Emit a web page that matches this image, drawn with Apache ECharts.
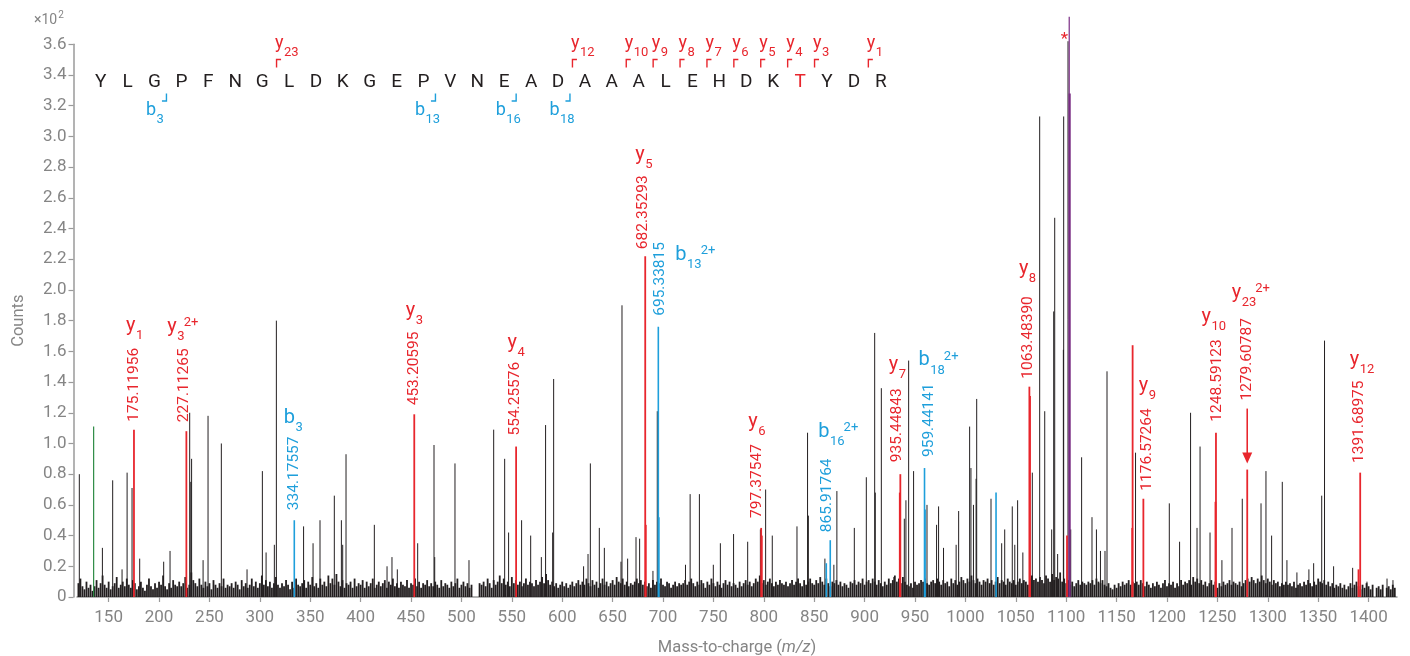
<!DOCTYPE html>
<html><head><meta charset="utf-8">
<script src="https://cdn.jsdelivr.net/npm/echarts@6/dist/echarts.min.js"></script>
<style>html,body{margin:0;padding:0;background:#fff}#c{width:1410px;height:656px}</style>
</head><body><div id="c"></div>
<script>
// ---------------- DATA ----------------
const xTicks = [150,200,250,300,350,400,450,500,550,600,650,700,750,800,850,900,950,1000,1050,1100,1150,1200,1250,1300,1350,1400];
const yTicks = [0,20,40,60,80,100,120,140,160,180,200,220,240,260,280,300,320,340,360];

// [m/z, counts]
const blackPeaks = [[120.9,80],[143.8,32],[154.0,76],[163.3,18],[168.3,81],[173.2,71],[180.8,25],[204.6,23],[210.9,30],[230.4,120],[231.5,75],[232.3,90],[243.7,24],[248.6,118],[261.8,100],[287.3,18],[302.5,82],[306.2,29],[314.4,34],[316.4,180],[343.4,46],[352.8,35],[359.7,50],[373.9,66],[380.9,50],[382.2,34],[385.5,93],[413.6,47],[426.2,20],[431.1,26],[436.4,18],[456.6,35],[472.8,99],[473.5,26],[493.6,87],[507.5,24],[532.0,109],[542.9,90],[546.8,42],[559.7,50],[568.7,40],[579.3,26],[583.5,112],[590.5,42],[591.5,142],[621.2,20],[625.6,28],[627.9,87],[636.8,45],[641.8,32],[658.3,23],[659.3,190],[664.9,25],[673.2,39],[676.8,38],[690.0,17],[694.3,121],[722.3,21],[726.9,67],[736.1,67],[749.9,21],[756.9,35],[770.0,41],[784.0,36],[796.6,44],[801.8,70],[808.4,40],[832.9,46],[843.4,107],[844.2,53],[860.6,25],[869.5,21],[872.5,69],[889.8,45],[901.7,78],[910.0,172],[910.6,68],[916.6,136],[929.0,13],[939.4,51],[941.0,63],[943.7,154],[948.6,82],[961.9,60],[971.4,47],[973.4,59],[978.3,32],[990.8,34],[993.3,56],[1004.2,111],[1005.5,84],[1008.0,60],[1010.6,77],[1011.2,129],[1025.4,64],[1036.0,35],[1039.0,44],[1046.5,59],[1049.0,34],[1051.8,63],[1057.0,29],[1066.4,81],[1073.7,313],[1078.7,121],[1085.6,44],[1087.6,186],[1088.6,247],[1091.5,28],[1097.2,161],[1097.5,313],[1101.8,362],[1104.5,44],[1115.3,91],[1125.6,52],[1130.0,44],[1134.0,30],[1138.5,30],[1140.5,147],[1168.8,94],[1202.3,61],[1212.5,36],[1223.4,120],[1229.8,45],[1232.8,98],[1242.7,42],[1254.5,24],[1264.5,45],[1274.7,64],[1293.3,61],[1298.2,82],[1303.8,40],[1314.4,75],[1319.0,24],[1328.9,16],[1340.8,18],[1345.5,22],[1353.5,66],[1356.3,167],[1365.3,20],[1384.2,19],[1398.4,10],[1418.3,12],[1424.2,11]];
const redPeaks = [[175.12,109],[227.11,108],[453.21,119],[554.26,98],[682.35,222],[682.9,47],[797.38,45],[798.0,40],[934.9,68],[935.45,80],[1063.48,137],[1064.1,131],[1100.8,40],[1165.5,45],[1165.9,164],[1176.57,64],[1248.1,62],[1248.59,107],[1279.61,83],[1390.0,18],[1391.69,81]];
const bluePeaks = [[334.18,50],[695.34,176],[695.9,52],[862.0,22],[865.92,37],[959.44,84],[960.0,57],[1030.4,68]];
const purplePeaks = [[1103.0,378]];
const purpleBasePeaks = [[1103.4,328]];
const greenPeaks = [[135.1,111]];

// baseline noise: counts sampled every 2 m/z from 120
const noiseStart = 120, noiseStep = 2;
const noiseCounts = [
 9,12,7,5,10,6,8,4,7,11,6,9,14,8,6,10,5,7,9,13,6,8,10,7,12,
 8,6,11,9,5,7,10,6,4,8,12,7,5,9,6,10,8,14,7,5,9,6,11,8,7,
 10,7,9,13,6,8,16,11,9,7,12,8,6,10,7,9,5,11,8,6,9,7,12,6,8,
 7,9,6,10,8,5,11,7,9,6,8,12,7,10,6,9,14,8,11,7,10,6,9,13,8,
 6,9,7,11,8,5,10,6,12,8,7,9,11,6,10,8,13,7,9,6,12,8,10,7,14,
 9,12,8,15,10,7,11,6,9,8,10,6,12,7,9,8,11,6,10,7,9,12,6,8,10,
 7,9,11,6,10,8,12,7,9,6,10,8,7,11,6,9,8,12,7,10,6,9,8,11,7,
 9,7,10,8,6,11,7,9,8,6,10,7,9,12,6,8,10,7,9,6,8,0,0,0,9,
 8,10,7,12,9,6,11,8,10,14,9,12,8,10,7,13,9,11,8,10,7,9,12,8,10,
 9,7,11,8,10,13,9,15,11,8,10,7,9,6,8,10,7,9,6,8,10,7,9,11,8,
 10,8,12,9,7,11,8,10,6,9,12,8,10,7,9,11,8,13,10,9,12,8,10,7,9,
 8,10,12,9,11,8,10,7,9,6,11,8,10,9,12,8,7,10,9,6,8,10,7,9,8,
 9,11,8,10,12,9,7,10,8,11,9,6,10,8,12,9,7,10,8,6,9,11,8,10,7,
 9,8,6,10,7,9,11,8,10,7,9,12,10,14,9,11,8,10,12,9,7,10,8,11,9,
 8,10,7,9,11,8,10,12,9,7,11,8,10,12,9,8,11,9,13,10,8,12,9,7,10,
 9,11,8,10,7,9,8,6,10,9,11,8,10,9,12,8,10,11,9,12,10,8,11,9,7,
 10,8,12,9,11,14,10,12,9,13,10,8,7,9,6,10,8,9,11,10,12,9,8,10,11,
 9,12,10,8,11,9,10,7,12,9,11,8,10,13,11,9,12,10,14,11,9,12,10,8,11,
 10,12,9,11,8,10,13,9,11,10,8,12,10,9,11,8,10,12,9,11,10,8,12,14,11,
 12,10,13,11,9,14,12,10,15,11,13,12,16,10,12,9,11,8,10,7,9,11,8,10,9,
 8,10,9,11,8,12,10,9,11,8,7,9,6,5,8,6,9,7,10,8,9,11,8,10,9,
 10,8,11,9,7,10,8,6,9,7,10,8,6,9,11,7,9,8,10,6,9,7,11,8,10,
 9,11,8,13,10,12,9,11,8,10,7,9,11,8,10,6,9,7,10,8,9,11,8,10,9,
 8,10,7,9,11,12,10,13,11,9,12,10,14,11,9,12,10,8,11,9,10,7,9,8,10,
 8,9,7,10,6,8,9,7,10,8,11,9,7,10,8,12,10,9,11,8,10,7,9,6,8,
 7,9,6,8,5,7,9,6,8,10,7,5,8,6,9,7,5,8,0,6,7,5,8,0,6,
 7,5,8,6
];

// annotated fragment ions
const annMz = [175.11956,227.11265,334.17557,453.20595,554.25576,682.35293,695.33815,797.37547,865.91764,935.44843,959.44141,1063.48390,1176.57264,1248.59123,1279.60787,1391.68975];
const annCounts = [109,108,50,119,98,222,176,45,37,80,84,137,64,107,83,81];
const annIon = ['y1','y3','b3','y3','y4','y5','b13','y6','b16','y7','b18','y8','y9','y10','y23','y12'];
const annCharge = ['','2+','','','','','2+','','2+','','2+','','','','2+',''];
const precursorPeak = [[1101.8,362]];

// peptide sequence and fragment coverage
const peptide = 'YLGPFNGLDKGEPVNEADAAALEHDKTYDR';
const modifiedResidue = 26; // T (0-based)
const yIons = [23,12,10,9,8,7,6,5,4,3,1];
const bIons = [3,13,16,18];

// ---------------- LAYOUT / STYLE ----------------
const RED = '#e8262d', BLUE = '#1e9fdb', PURPLE = '#7a2c84', GREEN = '#2e8b45', INK = '#231f20', GREY = '#858585', AXIS = '#9a9a9a';
const annLayout = [
 {dx:0.6,gap:8,lx:-8,lb:15.3},
 {dx:-2,gap:9,lx:-19,lb:15},
 {dx:0,gap:10,lx:-10.5,lb:11.3},
 {dx:-0.6,gap:9,lx:-8.5,lb:13.7},
 {dx:-0.5,gap:11,lx:-8.5,lb:12},
 {dx:-2,gap:7,lx:-10,lb:14},
 {dx:2,gap:11,lx:17,lb:-20},
 {dx:-4,gap:10,lx:-13,lb:15.7},
 {dx:-2.7,gap:8,lx:-12,lb:20},
 {dx:-3.6,gap:12,lx:-11.5,lb:16.3},
 {dx:5,gap:11,lx:-6,lb:16},
 {dx:-1.3,gap:8,lx:-10.5,lb:20.4},
 {dx:4,gap:8,lx:-4.5,lb:15.7},
 {dx:0.7,gap:11,lx:-14.5,lb:15.7},
 {dx:0.3,gap:69,lx:-15.5,lb:18.7,arrow:true},
 {dx:-0.6,gap:9.7,lx:-10.5,lb:13.7}
];

const FONT = 'Roboto';
const mctx = document.createElement('canvas').getContext('2d');
function tw(t, f){ mctx.font = f; return mctx.measureText(t).width; }

function T(x, y, text, size, fill, align, extra){
  const f = size + 'px ' + FONT;
  return Object.assign({type:'text', x:x, y:y, silent:true,
    style:{text:text, font:f, fill:fill, align:align||'left', textAlign:align||'left', verticalAlign:'middle', textVerticalAlign:'middle'}}, extra||{});
}

// ion label: letter + subscript (+ superscript), left edge x, baseline y
function ionLabel(x, base, ion, charge, color, big){
  const L = ion[0], sub = ion.slice(1);
  const wL = tw(L, big + 'px ' + FONT), wS = tw(sub, '13px ' + FONT);
  const out = [T(x, base - 0.34*big, L, big, color), T(x + wL + 0.5, base + 3, sub, 13, color)];
  if (charge) out.push(T(x + wL + 0.5 + wS - 1, base - 11, charge, 13, color));
  return out;
}

// sequence graphics (text layout in pixels)
const seqX0 = 100.7, seqDX = 26.9, seqMid = 82;
const graphics = [];
for (let i = 0; i < peptide.length; i++) {
  graphics.push(T(seqX0 + i*seqDX, seqMid, peptide[i], 19, i === modifiedResidue ? RED : INK, 'center'));
}
yIons.forEach(n => {
  const bx = seqX0 + (peptide.length - n)*seqDX - seqDX/2 + 1;
  graphics.push({type:'polyline', silent:true, shape:{points:[[bx,67.5],[bx,59.5],[bx+4.5,59.5]]}, style:{stroke:RED, lineWidth:1.4, fill:null}});
  ionLabel(bx - 1.5, 50, 'y' + n, '', RED, 18).forEach(e => graphics.push(e));
});
bIons.forEach(n => {
  const bx = seqX0 + (n-1)*seqDX + seqDX/2 - 1.5;
  graphics.push({type:'polyline', silent:true, shape:{points:[[bx-4.5,101],[bx,101],[bx,93.5]]}, style:{stroke:BLUE, lineWidth:1.4, fill:null}});
  ionLabel(bx - 20.5, 116.5, 'b' + n, '', BLUE, 18).forEach(e => graphics.push(e));
});
// ×10² multiplier
graphics.push(T(34, 20, '×10', 14, GREY));
graphics.push(T(35 + tw('×10','14px '+FONT), 15.5, '2', 10, GREY));

// ---------------- SERIES ----------------
function peakSeries(name, data, color, lw, z){
  return {type:'custom', name:name, data:data, clip:false, silent:true, z:z, animation:false,
    renderItem: function(params, api){
      const x = api.value(0), v = api.value(1);
      const p0 = api.coord([x, 0]), p1 = api.coord([x, v]);
      return {type:'line', shape:{x1:p0[0], y1:p0[1], x2:p1[0], y2:p1[1]}, style:{stroke:color, lineWidth:lw}};
    }};
}

const noiseData = noiseCounts.map((c, i) => [noiseStart + i*noiseStep, c]).filter(d => d[1] > 0);

const annSeries = {
  type:'custom', name:'annotations', clip:false, silent:true, z:10,
  data: annMz.map((m, i) => [m, annCounts[i]]),
  renderItem: function(params, api){
    const i = params.dataIndex, L = annLayout[i];
    const p = api.coord([api.value(0), api.value(1)]);
    const col = annIon[i][0] === 'b' ? BLUE : RED;
    const txt = annMz[i].toFixed(5);
    const rf = '15.5px ' + FONT;
    const bottom = p[1] - L.gap;
    const top = bottom - tw(txt, rf);
    const children = [{type:'text', x:p[0] + L.dx, y:bottom, rotation:Math.PI/2,
      style:{text:txt, font:rf, fill:col, align:'left', verticalAlign:'middle'}}];
    ionLabel(p[0] + L.lx, top - L.lb, annIon[i], annCharge[i], col, 20).forEach(e => {
      children.push({type:'text', x:e.x, y:e.y, style:{text:e.style.text, font:e.style.font, fill:col, align:'left', verticalAlign:'middle'}});
    });
    if (L.arrow) {
      const tip = p[1] - 6;
      children.push({type:'line', shape:{x1:p[0], y1:bottom + 8, x2:p[0], y2:tip - 8}, style:{stroke:col, lineWidth:1.6}});
      children.push({type:'polygon', shape:{points:[[p[0]-5, tip-11],[p[0]+5, tip-11],[p[0], tip]]}, style:{fill:col}});
    }
    return {type:'group', children:children};
  }
};

const starSeries = {
  type:'custom', name:'precursor', clip:false, silent:true, z:11, data:precursorPeak,
  renderItem: function(params, api){
    const p = api.coord([api.value(0), api.value(1)]);
    return {type:'text', x:p[0] - 3.7, y:p[1] - 1.5, style:{text:'*', font:'17px ' + FONT, fill:RED, align:'center', verticalAlign:'middle'}};
  }
};

const chart = echarts.init(document.getElementById('c'), null, {renderer:'canvas'});
chart.setOption({
  animation:false,
  textStyle:{fontFamily:FONT},
  grid:{left:77, right:13, top:44.3, bottom:59, containLabel:false, outerBoundsMode:'none'},
  xAxis:{type:'value', min:118.6, max:1428.2, offset:4,
    axisLine:{show:true, lineStyle:{color:AXIS, width:1.5}},
    axisTick:{show:true, length:5, customValues:xTicks, lineStyle:{color:AXIS, width:1.2}},
    axisLabel:{customValues:xTicks, color:GREY, fontSize:17, margin:8, fontFamily:FONT, formatter: v => String(v)},
    splitLine:{show:false},
    name:'{a|Mass-to-charge (}{b|m/z}{a|)}', nameLocation:'middle', nameGap:38,
    nameTextStyle:{rich:{a:{fontSize:16.5, color:GREY, fontFamily:FONT}, b:{fontSize:16.5, color:GREY, fontFamily:FONT, fontStyle:'italic'}}}
  },
  yAxis:{type:'value', min:0, max:360, interval:20, offset:3.5,
    axisLine:{show:true, lineStyle:{color:AXIS, width:1.5}},
    axisTick:{show:true, length:5, lineStyle:{color:AXIS, width:1.2}},
    axisLabel:{color:GREY, fontSize:17, margin:7, fontFamily:FONT,
      formatter: v => v === 0 ? '0' : (v/100).toFixed(1)},
    splitLine:{show:false},
    name:'Counts', nameLocation:'middle', nameGap:46,
    nameTextStyle:{fontSize:16.5, color:GREY, fontFamily:FONT}
  },
  graphic: graphics,
  series:[
    peakSeries('noise', noiseData, INK, 1.8, 1),
    peakSeries('peaks', blackPeaks, INK, 1, 2),
    peakSeries('green', greenPeaks, GREEN, 1.2, 3),
    peakSeries('blue', bluePeaks, BLUE, 1.6, 4),
    peakSeries('red', redPeaks, RED, 1.8, 5),
    peakSeries('purpleBase', purpleBasePeaks, PURPLE, 2.2, 6),
    peakSeries('purple', purplePeaks, PURPLE, 1.2, 7),
    annSeries, starSeries
  ]
});
</script>
</body></html>
